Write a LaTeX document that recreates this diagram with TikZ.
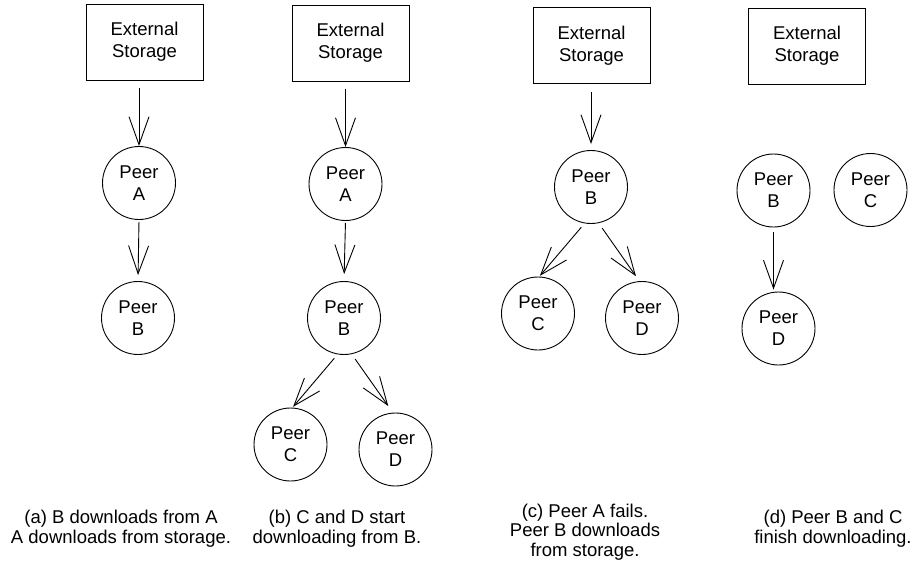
\documentclass[tikz,border=0pt]{standalone}
\usepackage{fontspec}
\setmainfont{Liberation Sans}
\usetikzlibrary{arrows.meta}
\begin{document}
\begin{tikzpicture}[x=1pt,y=-1pt,
  storebox/.style={draw,line width=1pt,minimum width=117pt,minimum height=76pt,inner sep=0pt,align=center,font=\fontsize{18.5}{22}\selectfont},
  peer/.style={draw,circle,line width=0.9pt,minimum size=73pt,inner sep=0pt,align=center,font=\fontsize{18.5}{22}\selectfont},
  arr/.style={line width=0.9pt,-{Straight Barb[length=28pt,width=20pt]}},
  caption/.style={align=center,font=\fontsize{18.5}{19.5}\selectfont,anchor=base}]
\useasboundingbox (0,0) rectangle (914,562);
% panel (a)
\node[storebox] (sa) at (144.5,42) {External\\Storage};
\node[peer] (pa) at (139,183) {Peer\\A};
\node[peer] (pb) at (138,318) {Peer\\B};
\draw[arr,shorten <=7pt] (pa.north |- sa.south) -- (pa.north);
\draw[arr,shorten <=2pt,shorten >=6pt] (pa.south) -- (pb.north);
% panel (b)
\node[storebox] (sb) at (350.5,43) {External\\Storage};
\node[peer] (pa2) at (345.5,184) {Peer\\A};
\node[peer] (pb2) at (344,318) {Peer\\B};
\node[peer] (pc2) at (290.5,444.5) {Peer\\C};
\node[peer] (pd2) at (395.5,449.5) {Peer\\D};
\draw[arr,shorten <=7pt] (pa2.north |- sb.south) -- (pa2.north);
\draw[arr,shorten <=2pt,shorten >=7pt] (pa2.south) -- (pb2.north);
\draw[arr,shorten <=5pt,shorten >=1pt] (pb2.-100) -- (pc2.87);
\draw[arr,shorten <=6pt,shorten >=8pt] (pb2.-78) -- (pd2.94);
% panel (c)
\node[storebox] (sc) at (591.5,45.5) {External\\Storage};
\node[peer] (pb3) at (591,187) {Peer\\B};
\node[peer] (pc3) at (538,313.5) {Peer\\C};
\node[peer] (pd3) at (642,318) {Peer\\D};
\draw[arr,shorten <=8pt,shorten >=6pt] (pb3.north |- sc.south) -- (pb3.north);
\draw[arr,shorten <=5pt,shorten >=1pt] (pb3.-100) -- (pc3.88);
\draw[arr,shorten <=6pt,shorten >=6pt] (pb3.-78) -- (pd3.94);
% panel (d)
\node[storebox] (sd) at (807,46) {External\\Storage};
\node[peer] (pb4) at (773.5,190.5) {Peer\\B};
\node[peer] (pc4) at (870.5,190) {Peer\\C};
\node[peer] (pd4) at (778.5,328.5) {Peer\\D};
\draw[arr,shorten <=5pt,shorten >=2pt] (pb4.south) -- (pb4.south |- pd4.north);
% captions (anchor = baseline of last line)
\node[caption] (capa) at (121,543) {(a) B downloads from A\\A downloads from storage.};
\node[caption] (capb) at (337,543) {(b) C and D start\\downloading from B.};
\node[caption] (capc) at (585,556) {(c) Peer A fails.\\Peer B downloads\\from storage.};
\node[caption] (capd) at (833,543) {(d) Peer B and C\\finish downloading.};
\end{tikzpicture}
\end{document}
